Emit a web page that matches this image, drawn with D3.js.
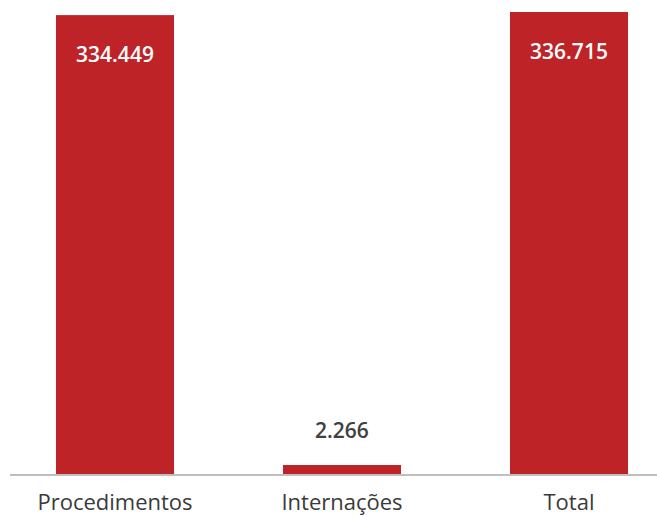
<!DOCTYPE html>
<html>
<head>
<meta charset="utf-8">
<script src="https://cdn.jsdelivr.net/npm/d3@7"></script>
<style>
  html, body { margin: 0; padding: 0; background: #fff; }
  svg { display: block; }
</style>
</head>
<body>
<svg id="chart" width="657" height="516"></svg>
<script>
const categories = ["Procedimentos", "Internações", "Total"];
const values = [334449, 2266, 336715];
const valueLabels = ["334.449", "2.266", "336.715"];

const W = 657, H = 516;
const svg = d3.select("#chart");
const fontFamily = "'Open Sans', Lato, sans-serif";

const x = d3.scaleBand()
  .domain(categories)
  .range([1.5, 682.5])
  .paddingInner(0.48)
  .paddingOuter(0.24);

const y = d3.scaleLinear()
  .domain([0, d3.max(values)])
  .range([474, 12]);

const minH = 9;
const data = categories.map((c, i) => ({ c, v: values[i], label: valueLabels[i] }));

svg.selectAll("rect.bar")
  .data(data)
  .join("rect")
  .attr("class", "bar")
  .attr("x", d => x(d.c))
  .attr("width", x.bandwidth())
  .attr("y", d => Math.min(y(d.v), y(0) - minH))
  .attr("height", d => Math.max(y(0) - y(d.v), minH))
  .attr("fill", "#be2328");

// baseline axis
svg.append("line")
  .attr("x1", 10).attr("x2", W)
  .attr("y1", 475).attr("y2", 475)
  .attr("stroke", "#bfbfbf").attr("stroke-width", 2);

// category labels
svg.selectAll("text.cat")
  .data(data)
  .join("text")
  .attr("class", "cat")
  .attr("x", d => x(d.c) + x.bandwidth() / 2)
  .attr("y", 510)
  .attr("text-anchor", "middle")
  .attr("font-family", fontFamily)
  .attr("font-size", 22)
  .attr("fill", "#3a3a3a")
  .text(d => d.c);

// value labels
svg.selectAll("text.val")
  .data(data)
  .join("text")
  .attr("class", "val")
  .attr("x", d => x(d.c) + x.bandwidth() / 2)
  .attr("y", d => {
    const top = Math.min(y(d.v), y(0) - minH);
    return (y(0) - top) > 60 ? top + 47 : top - 27;
  })
  .attr("text-anchor", "middle")
  .attr("font-family", fontFamily)
  .attr("font-size", 21)
  .attr("font-weight", 600)
  .attr("fill", d => (y(0) - y(d.v)) > 60 ? "#ffffff" : "#404040")
  .text(d => d.label);
</script>
</body>
</html>
